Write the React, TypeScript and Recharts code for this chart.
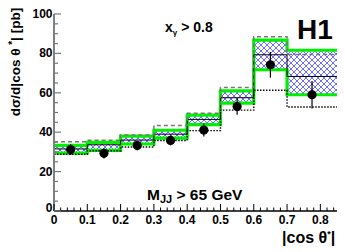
import React from 'react';
import { ComposedChart, Line, Area, Scatter, XAxis, YAxis, ErrorBar } from 'recharts';

// bin edges of |cos theta*|
const binEdges = [0, 0.1, 0.2, 0.3, 0.4, 0.5, 0.6, 0.7, 0.85];
// theory band (green edges, hatched inside)
const bandHigh = [33.3, 34.8, 38, 41, 48.7, 61, 86.7, 81.6];
const bandLow = [29.4, 30.8, 34, 37, 43.8, 54.8, 71.7, 59];
const nloCentral = [31.5, 33.6, 36, 39, 46.5, 57.5, 79.3, 68.3];
const dashedPred = [35.2, 35.9, 38.6, 43.4, 49.6, 62.7, 88.5, 79.5];
const dottedPred = [28.8, 30.6, 32.5, 35.8, 40.8, 51.2, 61.3, 52.8];
// data points
const dataX = [0.05, 0.15, 0.25, 0.35, 0.45, 0.55, 0.65, 0.775];
const dataY = [31.2, 29.3, 33.2, 35.8, 41.1, 53, 74.2, 59];
const dataErr = [2.8, 2.6, 2.4, 2.5, 3.3, 4.2, 6.5, 7];
// tick labels
const xTickLabels = ['0', '0.1', '0.2', '0.3', '0.4', '0.5', '0.6', '0.7', '0.8'];
const yTickLabels = ['0', '20', '40', '60', '80', '100'];

const xTicks: number[] = [];
for (let i = 0; i <= 42; i++) xTicks.push(Math.round(i * 2) / 100);
const yTicks: number[] = [];
for (let i = 0; i <= 20; i++) yTicks.push(i * 5);

const stepRows = binEdges.map((x, i) => {
  const k = Math.min(i, bandHigh.length - 1);
  return {
    x,
    hi: bandHigh[k],
    lo: bandLow[k],
    band: [bandLow[k], bandHigh[k]],
    c: nloCentral[k],
    d: dashedPred[k],
    dt: dottedPred[k],
  };
});

const points = dataX.map((x, i) => ({ x, y: dataY[i], err: dataErr[i] }));

const FONT = '"Liberation Sans", Arial, Helvetica, sans-serif';

const isMajorX = (v: number) => Math.abs(v * 10 - Math.round(v * 10)) < 1e-6;
const isMajorY = (v: number) => Math.abs(v % 20) < 1e-6;

const XBottomTick = (props: any) => {
  const { x, y, payload } = props;
  const v = payload.value;
  const major = isMajorX(v);
  const len = major ? 7 : 3.5;
  return (
    <g>
      <line x1={x} y1={y} x2={x} y2={y - len} stroke="#000" strokeWidth={1} />
      {major && (
        <text x={x} y={y + 12.5} textAnchor="middle" fontFamily={FONT} fontWeight="bold" fontSize={12} fill="#000">
          {xTickLabels[Math.round(v * 10)]}
        </text>
      )}
    </g>
  );
};

const XTopTick = (props: any) => {
  const { x, y, payload } = props;
  const major = isMajorX(payload.value);
  const len = major ? 7 : 3.5;
  return <line x1={x} y1={y} x2={x} y2={y + len} stroke="#000" strokeWidth={1} />;
};

const YLeftTick = (props: any) => {
  const { x, y, payload } = props;
  const v = payload.value;
  const major = isMajorY(v);
  const len = major ? 7 : 4;
  return (
    <g>
      <line x1={x} y1={y} x2={x + len} y2={y} stroke="#777" strokeWidth={1.2} />
      {major && (
        <text x={x - 1.5} y={v === 0 ? y + 0.5 : y + 4} textAnchor="end" fontFamily={FONT} fontWeight="bold" fontSize={12} fill="#000">
          {yTickLabels[Math.round(v / 20)]}
        </text>
      )}
    </g>
  );
};

const YRightTick = (props: any) => {
  const { x, y, payload } = props;
  const major = isMajorY(payload.value);
  const len = major ? 7 : 4;
  return <line x1={x} y1={y} x2={x - len} y2={y} stroke="#777" strokeWidth={1.2} />;
};

const Dot = (props: any) => {
  const { cx, cy } = props;
  if (cx == null || cy == null) return null;
  return <circle cx={cx} cy={cy} r={4.6} fill="#000" />;
};

export default function App() {
  return (
    <div style={{ position: 'absolute', left: 0, top: 0, width: 345, height: 252, background: '#fff' }}>
      <svg width={0} height={0} style={{ position: 'absolute' }}>
        <defs>
          <pattern id="hatch" width={6} height={6} patternUnits="userSpaceOnUse">
            <rect width={6} height={6} fill="#ffffff" />
            <path d="M0,0 L6,6 M6,0 L0,6" stroke="#4646ff" strokeWidth={0.8} />
          </pattern>
        </defs>
      </svg>
      <ComposedChart
        width={345}
        height={252}
        data={stepRows}
        margin={{ top: 14, right: 8, bottom: 11, left: 14 }}
      >
        <XAxis
          dataKey="x"
          type="number"
          domain={[0, 0.85]}
          ticks={xTicks}
          interval={0}
          allowDataOverflow
          height={30}
          tickSize={0}
          tickMargin={0}
          tickLine={false}
          axisLine={{ stroke: '#000', strokeWidth: 1.3 }}
          tick={<XBottomTick />}
        />
        <XAxis
          xAxisId="top"
          orientation="top"
          dataKey="x"
          type="number"
          domain={[0, 0.85]}
          ticks={xTicks}
          interval={0}
          allowDataOverflow
          height={0}
          tickSize={0}
          tickMargin={0}
          tickLine={false}
          axisLine={{ stroke: '#222', strokeWidth: 1 }}
          tick={<XTopTick />}
        />
        <YAxis
          type="number"
          domain={[0, 100]}
          ticks={yTicks}
          interval={0}
          allowDataOverflow
          width={40}
          tickSize={0}
          tickMargin={0}
          tickLine={false}
          axisLine={{ stroke: '#808080', strokeWidth: 2 }}
          tick={<YLeftTick />}
        />
        <YAxis
          yAxisId="right"
          orientation="right"
          type="number"
          domain={[0, 100]}
          ticks={yTicks}
          interval={0}
          allowDataOverflow
          width={0}
          tickSize={0}
          tickMargin={0}
          tickLine={false}
          axisLine={{ stroke: '#808080', strokeWidth: 1.5 }}
          tick={<YRightTick />}
        />
        <Area
          type="stepAfter"
          dataKey="band"
          fill="url(#hatch)"
          fillOpacity={1}
          stroke="none"
          isAnimationActive={false}
          activeDot={false}
        />
        <Line type="stepAfter" dataKey="hi" stroke="#00f000" strokeWidth={3.2} dot={false} isAnimationActive={false} />
        <Line type="stepAfter" dataKey="lo" stroke="#00f000" strokeWidth={3.2} dot={false} isAnimationActive={false} />
        <Line type="stepAfter" dataKey="c" stroke="#000" strokeWidth={1} dot={false} isAnimationActive={false} />
        <Line type="stepAfter" dataKey="d" stroke="#777" strokeWidth={1.5} strokeDasharray="4 3" dot={false} isAnimationActive={false} />
        <Line type="stepAfter" dataKey="dt" stroke="#000" strokeWidth={1.4} strokeDasharray="1.5 1.5" dot={false} isAnimationActive={false} />
        <Scatter data={points} dataKey="y" shape={<Dot />} isAnimationActive={false}>
          <ErrorBar dataKey="err" direction="y" width={0} stroke="#000" strokeWidth={1.2} />
        </Scatter>
      </ComposedChart>
      <svg width={345} height={252} style={{ position: 'absolute', left: 0, top: 0, pointerEvents: 'none' }}>
        <text
          transform="translate(20,62) rotate(-90)"
          textAnchor="middle"
          fontFamily={FONT}
          fontWeight="bold"
          fontSize={13.5}
          fill="#000"
        >
          dσ/d|cos θ <tspan dy={-4} fontSize={10}>*</tspan><tspan dy={4}>| [pb]</tspan>
        </text>
        <text x={165} y={32} fontFamily={FONT} fontWeight="bold" fontSize={14} fill="#000">
          x<tspan dy={3} fontSize={8}>γ</tspan><tspan dy={-3}> &gt; 0.8</tspan>
        </text>
        <text x={297} y={38.5} fontFamily={FONT} fontWeight="bold" fontSize={28} fill="#000">
          H1
        </text>
        <text x={147} y={200} fontFamily={FONT} fontWeight="bold" fontSize={15.5} fill="#000">
          M<tspan dy={3} fontSize={11}>JJ</tspan><tspan dy={-3}> &gt; 65 GeV</tspan>
        </text>
        <text x={282} y={243} fontFamily={FONT} fontWeight="bold" fontSize={16} fill="#000">
          |cos θ<tspan dy={-6} fontSize={9}>*</tspan><tspan dy={6}>|</tspan>
        </text>
      </svg>
    </div>
  );
}
